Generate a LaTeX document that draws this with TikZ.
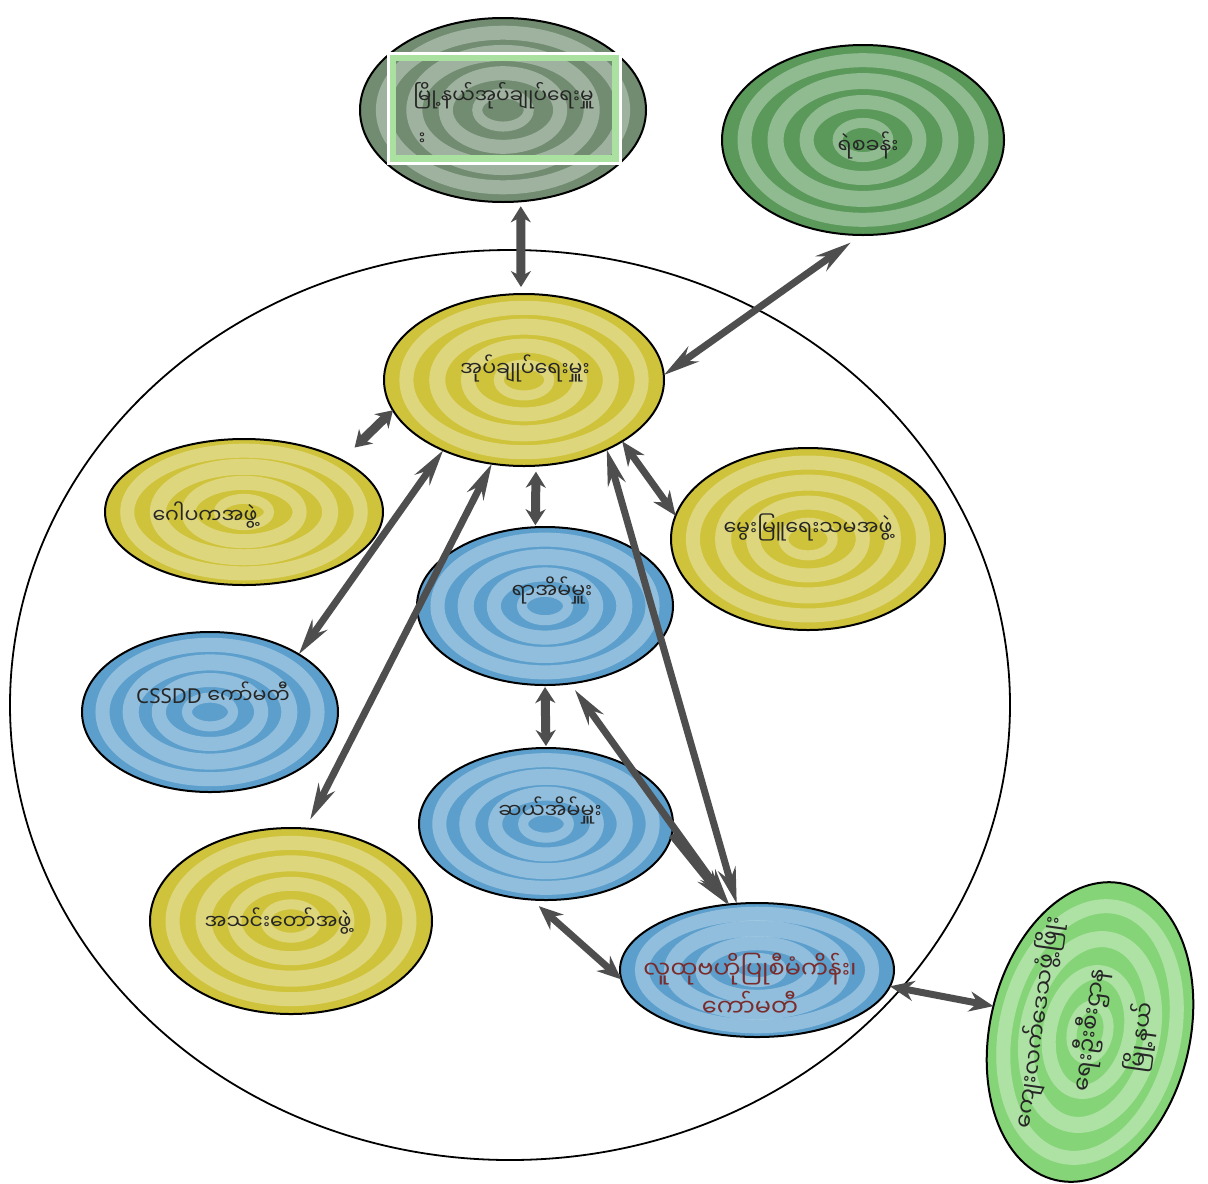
\documentclass[tikz,border=0pt]{standalone}
\usepackage{fontspec}
\setmainfont{Noto Sans}
\newfontfamily\mya[Script=Myanmar]{Noto Sans Myanmar UI}
\usetikzlibrary{shapes.geometric,arrows.meta}
\definecolor{ylw}{HTML}{CFC33C}
\definecolor{blu}{HTML}{5C9FCC}
\definecolor{dkg}{HTML}{718C70}
\definecolor{mdg}{HTML}{5A995A}
\definecolor{ltg}{HTML}{86D478}
\definecolor{arr}{HTML}{4E4E4E}
\definecolor{ink}{HTML}{262626}
\definecolor{brn}{HTML}{7A2C2C}
\tikzset{
 blobsh/.style={ellipse, draw=black, line width=1pt, inner sep=0pt, outer sep=0pt},
 lbl/.style={font=\mya\fontsize{10.3}{13}\selectfont, text=ink, inner sep=1pt},
 lng/.style={{Stealth[length=18pt,width=9pt]}-{Stealth[length=18pt,width=9pt]}, line width=3.5pt, draw=arr},
 lngone/.style={-{Stealth[length=18pt,width=9pt]}, line width=3.5pt, draw=arr},
 med/.style={{Stealth[length=12pt,width=10pt]}-{Stealth[length=12pt,width=10pt]}, line width=3.5pt, draw=arr},
 sht/.style={{Stealth[length=8pt,width=10pt]}-{Stealth[length=8pt,width=10pt]}, line width=4.5pt, draw=arr},
}
\newcommand\blob[7]{%
  \node[blobsh, fill=#6, minimum width=#4pt, minimum height=#5pt, rotate=#7] (#1) at (#2,#3) {};
  \foreach \k/\w in {0.84/7,0.62/8,0.4/7,0.18/5}{%
    \draw[white, opacity=0.33, line width=\w pt, rotate around={#7:(#2,#3)}] (#2,#3) ellipse [x radius=\k*#4, y radius=\k*#5];}%
}
\begin{document}
\begin{tikzpicture}[x=0.5pt,y=-0.5pt]
\useasboundingbox (0,0) rectangle (1208,1183);
\fill[white] (0,0) rectangle (1208,1183);
% outer boundary
\node[ellipse, draw=black, line width=0.9pt, minimum width=500pt, minimum height=455pt, inner sep=0pt] (outer) at (510,705) {};
% blobs
\blob{top}{503}{110}{143}{92}{dkg}{0}
\node[rectangle, draw=ltg!70!white, line width=4pt, minimum width=112pt, minimum height=51pt, inner sep=0pt] (topbox) at (504,108) {};
\draw[white, line width=1.5pt] (topbox.north west) rectangle (topbox.south east);
\blob{pol}{863}{140}{141}{95}{mdg}{0}
\blob{cen}{524}{380}{140}{86}{ylw}{0}
\blob{gop}{244}{512}{139}{73}{ylw}{0}
\blob{mwe}{808}{539}{137}{91}{ylw}{0}
\blob{ya}{545}{606}{128}{79}{blu}{0}
\blob{css}{210}{712}{128}{80}{blu}{0}
\blob{sal}{546}{824}{127}{76}{blu}{0}
\blob{ast}{291}{921}{141}{93}{ylw}{0}
\blob{lu}{757}{970}{137}{67}{blu}{0}
\blob{grn}{1090}{1032}{100}{152}{ltg}{-13}
% connectors
\draw[sht, shorten <=2.5pt, shorten >=3.5pt] (top.-79.5) -- (cen.92.7);
\draw[lng, shorten >=6.5pt] (cen.2) -- (pol.-91.8);
\draw[sht, shorten >=9pt] (cen.193.5) -- (gop.28.8);
\draw[lng] (cen.221.5) -- (css.33.7);
\draw[lng, shorten >=5pt] (cen.249.3) -- (ast.81.2);
\draw[sht, shorten <=3pt, shorten >=1pt] (cen.-82.7) -- (ya.97.2);
\draw[med] (cen.-32.5) -- (mwe.170.8);
\draw[lng] (cen.-40.3) -- (lu.107.6);
\draw[sht, shorten <=1pt, shorten >=1pt] (ya.-90) -- (sal.90);
\draw[lng, shorten <=4pt] (ya.-72.6) -- (lu.113.2);
\draw[lngone] (sal.-5.8) -- (lu.114);
\draw[med, shorten <=5pt] (sal.259.5) -- (lu.184.2);
\draw[med] (lu.-7.6) -- (grn.178);
% texts
\node[lbl, font=\mya\fontsize{10}{21}\selectfont, align=left, anchor=north west] (ttop) at (411,80) {မြို့နယ်အုပ်ချုပ်ရေးမှူ\\^^^^00a0း};
\node[lbl] (tpol) at (868,145) {ရဲစခန်း};
\node[lbl] (tcen) at (525,368) {အုပ်ချုပ်ရေးမှူး};
\node[lbl] (tgop) at (205,515) {ဂေါပကအဖွဲ့};
\node[lbl] (tmwe) at (808,527) {မွေးမြူရေးသမအဖွဲ့};
\node[lbl] (tya) at (552,590) {ရာအိမ်မှူး};
\node[lbl, font=\fontsize{10.3}{13}\selectfont] (tcss) at (213,693) {CSSDD {\mya ကော်မတီ}};
\node[lbl] (tsal) at (550,810) {ဆယ်အိမ်မှူး};
\node[lbl] (tast) at (278,921) {အသင်းတော်အဖွဲ့};
\node[lbl, text=brn, font=\mya\fontsize{12}{19}\selectfont, align=center] (tlu) at (750,985) {လူထုဗဟိုပြုစီမံကိန်း၊\\ကော်မတီ};
\node[lbl, font=\mya\fontsize{11.5}{26}\selectfont, align=center, rotate=82] (tgrn) at (1090,1030) {ကျေးလက်ဒေသဖွံ့ဖြိုး\\ရေးဦးစီးဌာန\\မြို့နယ်};
\end{tikzpicture}
\end{document}
